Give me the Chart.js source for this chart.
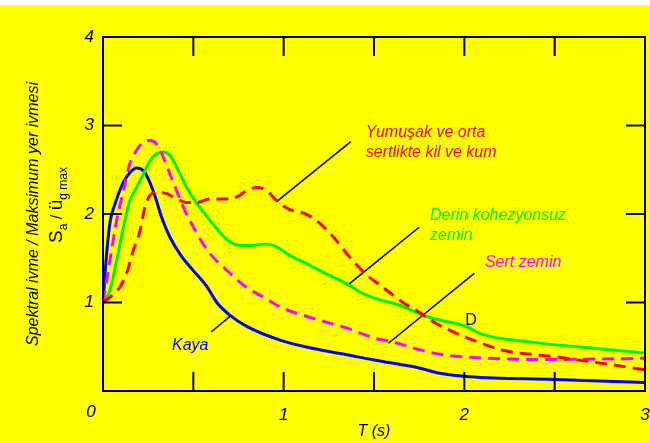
<!DOCTYPE html>
<html>
<head>
<meta charset="utf-8">
<script src="https://cdn.jsdelivr.net/npm/chart.js@4.4.1/dist/chart.umd.min.js"></script>
<style>
  body { margin: 0; background: #fff; }
  canvas { display: block; }
</style>
</head>
<body>
<canvas id="myChart" width="650" height="443"></canvas>
<script>
// period T (s) and normalised spectral acceleration for each soil type
const kaya_T  = [0, 0.02, 0.04, 0.066, 0.113, 0.15, 0.186, 0.223, 0.25, 0.29, 0.325, 0.37, 0.435, 0.5, 0.575, 0.63, 0.70, 0.795, 0.98, 1.164, 1.35, 1.5, 1.75, 1.865, 2.03, 2.5, 3.0];
const kaya_Sa = [1.0, 1.55, 1.92, 2.11, 2.36, 2.47, 2.52, 2.49, 2.40, 2.19, 1.96, 1.74, 1.52, 1.36, 1.18, 1.0, 0.86, 0.73, 0.575, 0.48, 0.41, 0.35, 0.26, 0.2, 0.16, 0.13, 0.095];

const sert_T  = [0, 0.039, 0.076, 0.113, 0.149, 0.186, 0.223, 0.26, 0.297, 0.334, 0.371, 0.408, 0.444, 0.48, 0.555, 0.61, 0.666, 0.795, 0.906, 0.98, 1.164, 1.35, 1.515, 1.59, 1.847, 2.12, 2.49, 3.0];
const sert_Sa = [1.0, 1.48, 1.93, 2.26, 2.57, 2.72, 2.81, 2.83, 2.79, 2.64, 2.45, 2.26, 2.08, 1.93, 1.66, 1.51, 1.40, 1.17, 1.04, 0.95, 0.82, 0.71, 0.59, 0.56, 0.42, 0.37, 0.356, 0.37];

const derin_T  = [0, 0.039, 0.076, 0.113, 0.149, 0.186, 0.223, 0.26, 0.297, 0.334, 0.371, 0.408, 0.463, 0.519, 0.592, 0.666, 0.74, 0.813, 0.906, 0.961, 1.035, 1.127, 1.22, 1.35, 1.44, 1.533, 1.625, 1.81, 2.01, 2.10, 2.36, 2.73, 3.0];
const derin_Sa = [1.0, 1.14, 1.48, 1.85, 2.15, 2.30, 2.45, 2.60, 2.68, 2.70, 2.66, 2.53, 2.30, 2.12, 1.93, 1.75, 1.65, 1.645, 1.66, 1.63, 1.53, 1.44, 1.34, 1.21, 1.10, 1.03, 0.98, 0.83, 0.73, 0.64, 0.555, 0.48, 0.43];

const yumusak_T  = [0, 0.039, 0.094, 0.131, 0.168, 0.205, 0.232, 0.26, 0.297, 0.352, 0.408, 0.463, 0.519, 0.592, 0.666, 0.74, 0.795, 0.85, 0.906, 0.961, 1.035, 1.109, 1.18, 1.275, 1.367, 1.46, 1.533, 1.66, 1.735, 1.847, 2.03, 2.215, 2.49, 2.77, 3.0];
const yumusak_Sa = [1.0, 1.06, 1.175, 1.33, 1.59, 1.81, 2.08, 2.21, 2.245, 2.23, 2.17, 2.13, 2.13, 2.17, 2.17, 2.19, 2.265, 2.30, 2.265, 2.15, 2.05, 2.01, 1.93, 1.74, 1.51, 1.31, 1.2, 1.0, 0.91, 0.76, 0.59, 0.46, 0.39, 0.31, 0.24];

// labels (data units) and their leader lines
const labelTexts  = [['Yumuşak ve orta', 'sertlikte kil ve kum'], ['Derin kohezyonsuz', 'zemin'], ['Sert zemin'], ['Kaya'], ['D']];
const labelT      = [1.455, 1.81, 2.114, 0.382, 2.005];
const labelSa     = [2.92, 1.98, 1.446, 0.518, 0.79];
const labelColors = ['#ff0000', '#00ee00', '#ff00ff', '#0000ff', '#000000'];

const leaderT  = [[0.961, 1.372], [1.363, 1.75], [1.58, 2.055], [0.60, 0.71]];
const leaderSa = [[2.14, 2.817], [1.21, 1.85], [0.54, 1.33], [0.67, 0.855]];

const xTicks = [0, 0.5, 1, 1.5, 2, 2.5, 3];
const yTicks = [0, 1, 2, 3, 4];

function pts(ts, vs) {
    return ts.map((t, i) => ({ x: t, y: vs[i] }));
}

const curve = (data, color, dash) => ({
    data: data,
    borderColor: color,
    borderWidth: 3,
    borderDash: dash,
    pointRadius: 0,
    fill: false,
    cubicInterpolationMode: 'monotone'
});

const leaders = leaderT.map((ts, i) => ({
    data: pts(ts, leaderSa[i]),
    borderColor: '#000',
    borderWidth: 1.5,
    pointRadius: 0,
    fill: false
}));

const italic = { family: "'Liberation Sans', Arial, sans-serif", style: 'italic', size: 17 };

const frame = {
    id: 'frame',
    beforeDraw(chart) {
        const c = chart.ctx;
        c.save();
        c.fillStyle = '#ffff00';
        c.fillRect(0, 5, chart.width, chart.height - 5);
        c.restore();
    },
    afterDraw(chart) {
        const c = chart.ctx;
        const a = chart.chartArea;
        const xs = chart.scales.x, ys = chart.scales.y;
        const tl = 19;
        c.save();
        c.strokeStyle = '#000';
        c.lineWidth = 2;
        c.strokeRect(a.left, a.top, a.right - a.left, a.bottom - a.top);
        c.beginPath();
        xTicks.slice(1, -1).forEach(v => {
            const px = xs.getPixelForValue(v);
            c.moveTo(px, a.bottom); c.lineTo(px, a.bottom - tl);
            c.moveTo(px, a.top); c.lineTo(px, a.top + tl);
        });
        yTicks.slice(1, -1).forEach(v => {
            const py = ys.getPixelForValue(v);
            c.moveTo(a.left, py); c.lineTo(a.left + tl, py);
            c.moveTo(a.right, py); c.lineTo(a.right - tl, py);
        });
        c.stroke();

        // shared origin label
        c.fillStyle = '#000';
        c.font = "italic 17px 'Liberation Sans', Arial, sans-serif";
        c.textAlign = 'center';
        c.textBaseline = 'middle';
        c.fillText('0', a.left - 12, a.bottom + 21);

        // curve labels
        c.textAlign = 'left';
        labelTexts.forEach((lines, i) => {
            const px = xs.getPixelForValue(labelT[i]);
            const py = ys.getPixelForValue(labelSa[i]);
            c.fillStyle = labelColors[i];
            c.font = (i === 4 ? '' : 'italic ') + "16px 'Liberation Sans', Arial, sans-serif";
            lines.forEach((s, k) => c.fillText(s, px, py + k * 20));
        });

        // Sa / ü g max
        c.fillStyle = '#000';
        c.translate(62, 243);
        c.rotate(-Math.PI / 2);
        c.textBaseline = 'alphabetic';
        let pos = 0;
        const part = (s, size, dy) => {
            c.font = size + "px 'Liberation Sans', Arial, sans-serif";
            c.fillText(s, pos, dy);
            pos += c.measureText(s).width;
        };
        part('S', 19, 0);
        part('a', 12, 5);
        part(' / ', 16, 0);
        part('ü', 19, 0);
        part('g max', 12, 5);
        c.restore();
    }
};

new Chart(document.getElementById('myChart'), {
    type: 'line',
    data: {
        datasets: [
            curve(pts(yumusak_T, yumusak_Sa), '#ff0000', [12, 7]),
            curve(pts(sert_T, sert_Sa), '#ff00ff', [12, 7]),
            curve(pts(derin_T, derin_Sa), '#00f000', []),
            curve(pts(kaya_T, kaya_Sa), '#0000ff', []),
            ...leaders
        ]
    },
    options: {
        responsive: false,
        animation: false,
        layout: { padding: { top: 37, right: 5, left: 0, bottom: 0 } },
        plugins: { legend: { display: false }, tooltip: { enabled: false } },
        scales: {
            x: {
                type: 'linear',
                min: 0,
                max: 3,
                afterBuildTicks: s => { s.ticks = xTicks.map(v => ({ value: v })); },
                afterFit: s => { s.height = 52; s.paddingLeft = 0; s.paddingRight = 0; },
                grid: { display: false, drawTicks: false },
                border: { display: false },
                ticks: {
                    color: '#000',
                    font: italic,
                    padding: 14,
                    maxRotation: 0,
                    autoSkip: false,
                    callback: v => (Number.isInteger(v) && v > 0) ? String(v) : ''
                },
                title: {
                    display: true,
                    text: 'T (s)',
                    color: '#000',
                    font: { family: italic.family, style: 'italic', size: 16 },
                    padding: { top: 0, bottom: 2 }
                }
            },
            y: {
                min: 0,
                max: 4,
                afterBuildTicks: s => { s.ticks = yTicks.map(v => ({ value: v })); },
                afterFit: s => { s.width = 103; s.paddingTop = 0; s.paddingBottom = 0; },
                grid: { display: false, drawTicks: false },
                border: { display: false },
                ticks: {
                    color: '#000',
                    font: italic,
                    padding: 9,
                    callback: v => v > 0 ? String(v) : ''
                },
                title: {
                    display: true,
                    text: 'Spektral ivme / Maksimum yer ivmesi',
                    color: '#000',
                    font: { family: italic.family, style: 'italic', size: 16 },
                    padding: { top: 24, bottom: 0 }
                }
            }
        }
    },
    plugins: [frame]
});
</script>
</body>
</html>
